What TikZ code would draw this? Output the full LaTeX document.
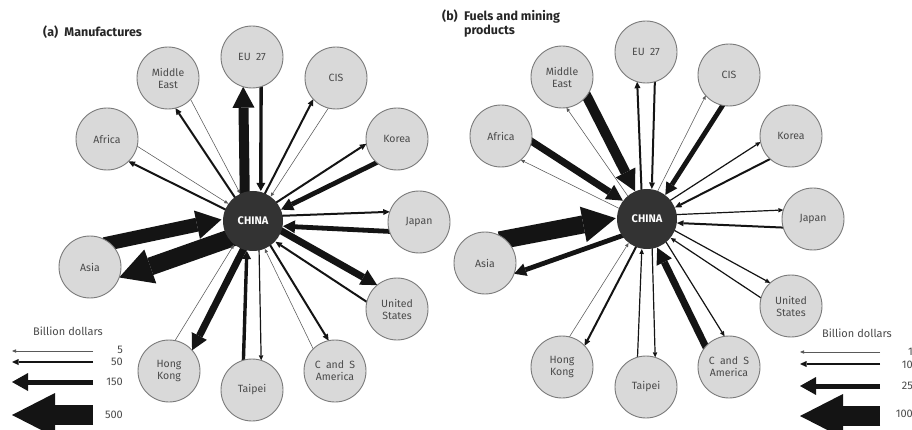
\documentclass[tikz,border=0pt]{standalone}
\usepackage{fontspec}
\setmainfont{Fira Sans}
\usetikzlibrary{calc,arrows.meta,backgrounds}
\definecolor{satfill}{HTML}{D9D9D9}
\definecolor{satedge}{HTML}{7A7A7A}
\definecolor{hubfill}{HTML}{333333}
\definecolor{labelgray}{HTML}{4A4A4A}
\definecolor{arrowblack}{HTML}{141414}
\tikzset{
  sat/.style={circle, draw=satedge, line width=0.9pt, fill=satfill, minimum size=62pt, inner sep=0pt,
    align=center, font=\fontsize{10.5}{12}\selectfont, text=labelgray},
  hub/.style={circle, fill=hubfill, minimum size=60pt, inner sep=0pt,
    font=\bfseries\fontsize{11}{12}\selectfont, text=white},
  flbase/.style={draw=arrowblack, line cap=butt},
  fl0/.style={flbase, draw=black!65, line width=0.55pt, -{Triangle[length=4pt,width=3.5pt,line width=0pt 0 0]}},
  fl1/.style={flbase, line width=1.2pt, -{Triangle[length=5pt,width=4.5pt,line width=0pt 0 0]}},
  fl2/.style={flbase, line width=2pt, -{Triangle[length=6.5pt,width=6pt,line width=0pt 0 0]}},
  fl3/.style={flbase, line width=3.4pt, -{Triangle[length=8pt,width=9pt,line width=0pt 0 0]}},
  fl4/.style={flbase, line width=4.8pt, -{Triangle[length=12pt,width=13pt,line width=0pt 0 0]}},
  fl5/.style={flbase, line width=7pt, -{Triangle[length=16pt,width=17pt,line width=0pt 0 0]}},
  fl6/.style={flbase, line width=10pt, -{Triangle[length=21pt,width=22pt,line width=0pt 0 0]}},
  fl7/.style={flbase, line width=14pt, -{Triangle[length=25pt,width=29pt,line width=0pt 0 0]}},
  fl8/.style={flbase, line width=18pt, -{Triangle[length=33pt,width=36pt,line width=0pt 0 0]}},
  lg150/.style={flbase, line width=5pt, -{Triangle[length=16pt,width=18pt,line width=0pt 0 0]}},
  lg500/.style={flbase, line width=20pt, -{Triangle[length=43pt,width=44pt,line width=0pt 0 0]}},
  legtext/.style={font=\fontsize{11}{12}\selectfont, text=labelgray, inner sep=0pt},
  title/.style={font=\bfseries\fontsize{12.5}{14}\selectfont, text=black!85, inner sep=0pt, align=left},
}
% #1 hub, #2 satellite, #3 export style, #4 import style, #5 hub offset, #6 satellite offset
\newcommand\flowpair[6]{%
  \pgfmathsetmacro\rsatA{sqrt(961-(#6)*(#6))}%
  \draw[#3] ($(#1)!20pt!(#2)!#5pt!90:(#2)$) -- ($(#2)!\rsatA pt!(#1)!#6pt!-90:(#1)$);
  \draw[#4] ($(#2)!20pt!(#1)!#6pt!90:(#1)$) -- ($(#1)!30pt!(#2)!#5pt!-90:(#2)$);
}
\begin{document}
\begin{tikzpicture}[x=1pt,y=-1pt]
\useasboundingbox (0,0) rectangle (912,430);

% ---------- titles
\node[title, anchor=west] (ta) at (43,32) {(a)\enspace Manufactures};
\node[title, anchor=north west] (tb) at (442,10) {(b)\enspace Fuels and mining\\\phantom{(b)\enspace}products};

% ---------- (a) Manufactures
\node[hub] (Lc) at (253,221) {CHINA};
\node[sat] (LEU) at (252,57) {EU\enspace 27};
\node[sat] (LME) at (168,78) {Middle\\East};
\node[sat] (LCIS) at (336,78) {CIS};
\node[sat] (LAF) at (107,139) {Africa};
\node[sat] (LKO) at (397,139) {Korea};
\node[sat] (LJP) at (419,222) {Japan};
\node[sat] (LAS) at (90,267) {Asia};
\node[sat] (LUS) at (397,309) {United\\States};
\node[sat] (LHK) at (169,371) {Hong\\Kong};
\node[sat] (LTP) at (252,390) {Taipei};
\node[sat] (LCS) at (335,371) {C\enspace and\enspace S\\America};

% ---------- (b) Fuels and mining products
\node[hub] (Rc) at (647,219) {CHINA};
\node[sat] (REU) at (646,52) {EU\enspace 27};
\node[sat] (RME) at (562,77) {Middle\\East};
\node[sat] (RCIS) at (729,75) {CIS};
\node[sat] (RAF) at (501,136) {Africa};
\node[sat] (RKO) at (791,136) {Korea};
\node[sat] (RJP) at (813,219) {Japan};
\node[sat] (RAS) at (485,263) {Asia};
\node[sat] (RUS) at (791,306) {United\\States};
\node[sat] (RHK) at (562,367) {Hong\\Kong};
\node[sat] (RTP) at (646,387) {Taipei};
\node[sat] (RCS) at (729,367) {C\enspace and\enspace S\\America};

\begin{scope}[on background layer]
\fill[white] (0,0) rectangle (912,430);
% manufactures
\flowpair{Lc}{LEU}{fl6}{fl3}{8}{9}
\flowpair{Lc}{LME}{fl2}{fl0}{3}{9}
\flowpair{Lc}{LCIS}{fl2}{fl0}{3}{9}
\flowpair{Lc}{LAF}{fl2}{fl0}{3}{9}
\flowpair{Lc}{LKO}{fl2}{fl4}{4}{11}
\flowpair{Lc}{LJP}{fl2}{fl4}{5}{10}
\flowpair{Lc}{LAS}{fl8}{fl7}{10}{18}
\flowpair{Lc}{LUS}{fl5}{fl2}{6}{10}
\flowpair{Lc}{LCS}{fl2}{fl0}{3}{9}
\flowpair{Lc}{LTP}{fl1}{fl3}{6}{9}
\flowpair{Lc}{LHK}{fl5}{fl0}{5}{10}
% fuels
\flowpair{Rc}{REU}{fl2}{fl2}{5}{9}
\flowpair{Rc}{RME}{fl0}{fl6}{4}{12}
\flowpair{Rc}{RCIS}{fl0}{fl4}{4}{10}
\flowpair{Rc}{RAF}{fl0}{fl5}{4}{11}
\flowpair{Rc}{RKO}{fl1}{fl2}{4}{10}
\flowpair{Rc}{RJP}{fl1}{fl2}{4}{9}
\flowpair{Rc}{RAS}{fl4}{fl8}{9}{18}
\flowpair{Rc}{RUS}{fl1}{fl1}{4}{9}
\flowpair{Rc}{RCS}{fl1}{fl5}{5}{11}
\flowpair{Rc}{RTP}{fl1}{fl1}{5}{9}
\flowpair{Rc}{RHK}{fl2}{fl0}{4}{9}
\end{scope}

% ---------- legend (a)
\node[legtext] (lgA) at (68,331) {Billion dollars};
\coordinate (la1t) at (93,351); \coordinate (la1h) at (12,351);
\coordinate (la2t) at (93,362); \coordinate (la2h) at (12,362);
\coordinate (la3t) at (93,382); \coordinate (la3h) at (12,382);
\coordinate (la4t) at (93,415); \coordinate (la4h) at (12,415);
\draw[fl0] (la1t) -- (la1h);
\draw[fl2] (la2t) -- (la2h);
\draw[lg150] (la3t) -- (la3h);
\draw[lg500] (la4t) -- (la4h);
\node[legtext, anchor=east] (na1) at (123,350) {5};
\node[legtext, anchor=east] (na2) at (123,362) {50};
\node[legtext, anchor=east] (na3) at (123,382) {150};
\node[legtext, anchor=east] (na4) at (123,415) {500};

% ---------- legend (b)
\node[legtext] (lgB) at (857,333) {Billion dollars};
\coordinate (lb1t) at (880,352); \coordinate (lb1h) at (800,352);
\coordinate (lb2t) at (880,364); \coordinate (lb2h) at (800,364);
\coordinate (lb3t) at (880,386); \coordinate (lb3h) at (800,386);
\coordinate (lb4t) at (880,416); \coordinate (lb4h) at (800,416);
\draw[fl0] (lb1t) -- (lb1h);
\draw[fl2] (lb2t) -- (lb2h);
\draw[lg150] (lb3t) -- (lb3h);
\draw[lg500] (lb4t) -- (lb4h);
\node[legtext, anchor=east] (nb1) at (913,352) {1};
\node[legtext, anchor=east] (nb2) at (913,365) {10};
\node[legtext, anchor=east] (nb3) at (913,386) {25};
\node[legtext, anchor=east] (nb4) at (913,414) {100};
\end{tikzpicture}
\end{document}
